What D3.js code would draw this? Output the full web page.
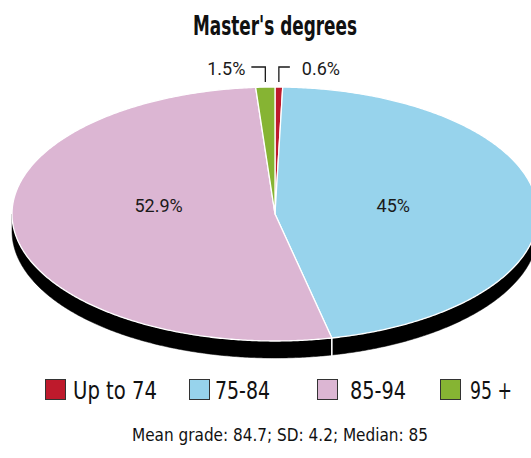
<!DOCTYPE html>
<html>
<head>
<meta charset="utf-8">
<script src="https://cdn.jsdelivr.net/npm/d3@7"></script>
<style>
  html, body { margin: 0; padding: 0; background: #fff; }
  svg { display: block; }
  .cond { font-family: "DejaVu Sans Condensed", "DejaVu Sans", sans-serif; font-stretch: condensed; }
  .lbl { font-family: Roboto, "Liberation Sans", Arial, sans-serif; }
</style>
</head>
<body>
<svg id="chart" width="531" height="458"></svg>
<script>
// ---- data ----
const title = "Master's degrees";
const categories = ["Up to 74", "75-84", "85-94", "95 +"];
const values = [0.6, 45, 52.9, 1.5];
const valueLabels = ["0.6%", "45%", "52.9%", "1.5%"];
const colors = ["#BE1A2C", "#97D3EC", "#DCB6D3", "#86B433"];
const footnote = "Mean grade: 84.7; SD: 4.2; Median: 85";

// ---- layout ----
const W = 531, H = 458;
const cx = 275, cy = 214, rx = 263, ry = 127, depth = 17;
const k = 0.78; // 3D foreshortening of angles
const legendBoxX = [45, 189, 317, 440];
const legendTextGap = [28, 26, 33, 30];
const legendTextLen = [84, 55, 56, 42];

const svg = d3.select("#chart");

const pie = d3.pie().sort(null).value(d => d).startAngle(0).endAngle(2 * Math.PI);
const arcs = pie(values);

function warp(a) {
  let p = Math.atan2(k * Math.sin(a), Math.cos(a));
  while (p < a - Math.PI) p += 2 * Math.PI;
  while (p > a + Math.PI) p -= 2 * Math.PI;
  return p;
}
function pt(phi, dy = 0, f = 1) {
  return [cx + f * rx * Math.sin(phi), cy - f * ry * Math.cos(phi) + dy];
}
function samples(p0, p1, dy) {
  const n = Math.max(2, Math.ceil(Math.abs(p1 - p0) / (Math.PI / 360)));
  return d3.range(n + 1).map(i => pt(p0 + (p1 - p0) * i / n, dy));
}
const line = d3.line();

const slices = arcs.map((a, i) => ({
  i, p0: warp(a.startAngle), p1: warp(a.endAngle),
  mid: warp((a.startAngle + a.endAngle) / 2)
}));

// side walls (front half only)
const gSide = svg.append("g");
slices.forEach(s => {
  const s0 = Math.max(s.p0, Math.PI / 2), s1 = Math.min(s.p1, 3 * Math.PI / 2);
  if (s1 > s0) {
    const pts = samples(s0, s1, 0).concat(samples(s1, s0, depth));
    gSide.append("path").attr("d", line(pts) + "Z").attr("fill", "#000")
      .attr("stroke", "#000").attr("stroke-width", 0.5);
  }
});
slices.forEach(s => {
  if (s.p0 > Math.PI / 2 && s.p0 < 3 * Math.PI / 2) {
    const a = pt(s.p0), b = pt(s.p0, depth);
    gSide.append("line").attr("x1", a[0]).attr("y1", a[1])
      .attr("x2", b[0]).attr("y2", b[1] + 1)
      .attr("stroke", "#fff").attr("stroke-width", 1.6);
  }
});

// top faces
const gTop = svg.append("g");
slices.forEach(s => {
  const pts = [[cx, cy]].concat(samples(s.p0, s.p1, 0));
  gTop.append("path").attr("d", line(pts) + "Z")
    .attr("fill", colors[s.i]).attr("stroke", "#fff")
    .attr("stroke-width", 1.3).attr("stroke-linejoin", "round");
});

// labels
const gLbl = svg.append("g").attr("class", "lbl").attr("font-size", 18).attr("fill", "#1a1a1a");
slices.forEach(s => {
  const share = values[s.i];
  if (share >= 5) {
    const p = pt(s.mid, 0, 0.455);
    gLbl.append("text").attr("x", p[0]).attr("y", cy - 2)
      .attr("text-anchor", "middle").text(valueLabels[s.i]);
  } else {
    const top = pt(s.mid);
    const x = top[0], y0 = top[1] - 5, y1 = 67;
    const left = Math.sin(s.mid) < 0;
    const xEnd = left ? x - 14 : x + 11;
    gLbl.append("path")
      .attr("d", line([[x, y0], [x, y1], [xEnd, y1]]))
      .attr("fill", "none").attr("stroke", "#1a1a1a").attr("stroke-width", 1.3);
    gLbl.append("text")
      .attr("x", left ? xEnd - 6 : xEnd + 12).attr("y", 75)
      .attr("text-anchor", left ? "end" : "start").text(valueLabels[s.i]);
  }
});

// title
svg.append("text").attr("class", "cond")
  .attr("x", 275).attr("y", 35).attr("text-anchor", "middle")
  .attr("font-size", 26).attr("font-weight", "bold").attr("fill", "#111")
  .attr("textLength", 164).attr("lengthAdjust", "spacingAndGlyphs")
  .text(title);

// legend
const gLeg = svg.append("g").attr("class", "cond");
categories.forEach((c, i) => {
  gLeg.append("rect").attr("x", legendBoxX[i] + 0.5).attr("y", 379.5)
    .attr("width", 20).attr("height", 20)
    .attr("fill", colors[i]).attr("stroke", "#333").attr("stroke-width", 1);
  gLeg.append("text").attr("x", legendBoxX[i] + legendTextGap[i]).attr("y", 399)
    .attr("font-size", 24).attr("fill", "#111")
    .attr("textLength", legendTextLen[i]).attr("lengthAdjust", "spacingAndGlyphs")
    .text(c);
});

// footnote
svg.append("text").attr("class", "cond")
  .attr("x", 280).attr("y", 441).attr("text-anchor", "middle")
  .attr("font-size", 18).attr("fill", "#111")
  .attr("textLength", 296).attr("lengthAdjust", "spacingAndGlyphs")
  .text(footnote);
</script>
</body>
</html>
